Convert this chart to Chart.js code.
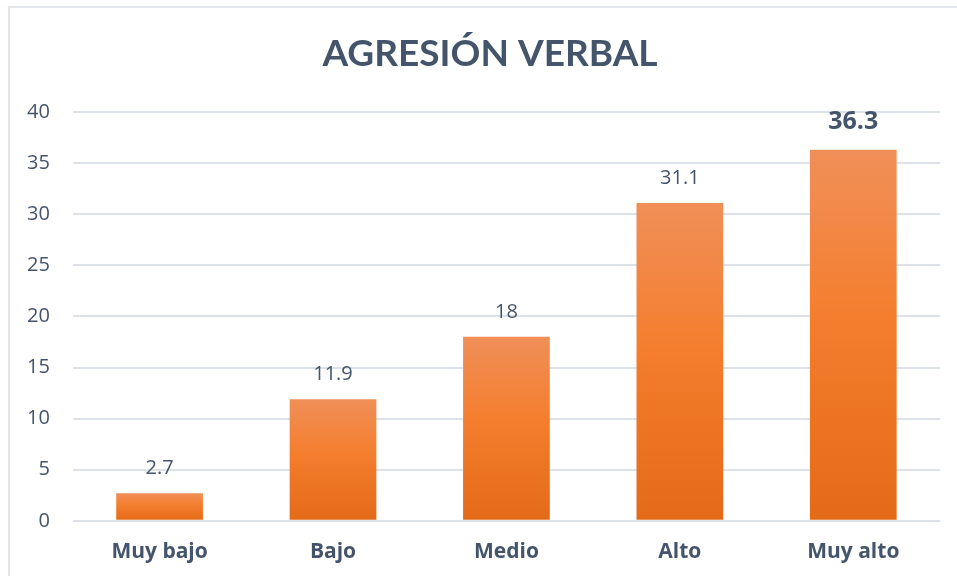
<!DOCTYPE html>
<html>
<head>
<meta charset="utf-8">
<script src="https://cdn.jsdelivr.net/npm/chart.js@4.4.1/dist/chart.umd.min.js"></script>
<style>
  html, body { margin: 0; padding: 0; background: #fff; }
  #wrap { position: absolute; left: 0; top: 0; width: 957px; height: 576px; }
  #frame { position: absolute; left: 8px; top: 6px; width: 960px; height: 580px; border: 2px solid #E3E6EA; box-sizing: border-box; }
  canvas { display: block; }
</style>
</head>
<body>
<div id="wrap">
  <div id="frame"></div>
  <canvas id="grafico" width="957" height="576"></canvas>
</div>
<script>
const categorias = ["Muy bajo", "Bajo", "Medio", "Alto", "Muy alto"];
const valores = [2.7, 11.9, 18, 31.1, 36.3];
const titulo = "AGRESIÓN VERBAL";
const yMin = 0, yMax = 40, yPaso = 5;

const corTexto = "#44546A";
const fonte = "'Open Sans', sans-serif";
const fonteTitulo = "Lato, 'Open Sans', sans-serif";

// rótulos acima das barras (o último em negrito e maior)
const rotulosPlugin = {
  id: "rotulos",
  afterDatasetsDraw(chart) {
    const ctx = chart.ctx;
    const meta = chart.getDatasetMeta(0);
    ctx.save();
    ctx.textAlign = "center";
    ctx.textBaseline = "middle";
    ctx.fillStyle = corTexto;
    meta.data.forEach((bar, i) => {
      const ultimo = i === valores.length - 1;
      ctx.font = (ultimo ? "bold 25px " : "20px ") + fonte;
      ctx.fillText(String(valores[i]), bar.x, bar.y - (ultimo ? 28 : 25));
    });
    ctx.restore();
  }
};

// título centrado na moldura (que passa da borda direita)
const tituloPlugin = {
  id: "tituloMoldura",
  afterDraw(chart) {
    const ctx = chart.ctx;
    ctx.save();
    ctx.textAlign = "center";
    ctx.textBaseline = "middle";
    ctx.fillStyle = corTexto;
    ctx.font = "bold 37px " + fonteTitulo;
    ctx.fillText(titulo, (chart.width + 23) / 2, 54);
    ctx.restore();
  }
};

function gradienteBarra(context) {
  const chart = context.chart;
  const area = chart.chartArea;
  if (!area) return "#F47F2F";
  const y = chart.scales.y;
  const topo = y.getPixelForValue(context.raw);
  const base = y.getPixelForValue(0);
  const g = chart.ctx.createLinearGradient(0, topo, 0, base);
  g.addColorStop(0, "#F08F58");
  g.addColorStop(0.45, "#F47E2E");
  g.addColorStop(1, "#E36A18");
  return g;
}

const ctx = document.getElementById("grafico").getContext("2d");
new Chart(ctx, {
  type: "bar",
  data: {
    labels: categorias,
    datasets: [{
      data: valores,
      backgroundColor: gradienteBarra,
      borderWidth: 0,
      barPercentage: 0.5,
      categoryPercentage: 1
    }]
  },
  options: {
    responsive: false,
    animation: false,
    layout: { padding: { left: 4, right: 17, top: 112, bottom: -8 } },
    plugins: {
      legend: { display: false },
      tooltip: { enabled: false },
      title: { display: false }
    },
    scales: {
      x: {
        grid: { display: false, drawTicks: false },
        border: { display: false },
        ticks: { color: corTexto, padding: 19, font: { family: fonte, size: 21, weight: "bold" } }
      },
      y: {
        min: yMin,
        max: yMax,
        ticks: { stepSize: yPaso, color: corTexto, padding: 23, font: { family: fonte, size: 20 } },
        grid: { color: "#DDE2E8", lineWidth: 2, drawTicks: false },
        border: { display: false }
      }
    }
  },
  plugins: [rotulosPlugin, tituloPlugin]
});
</script>
</body>
</html>
